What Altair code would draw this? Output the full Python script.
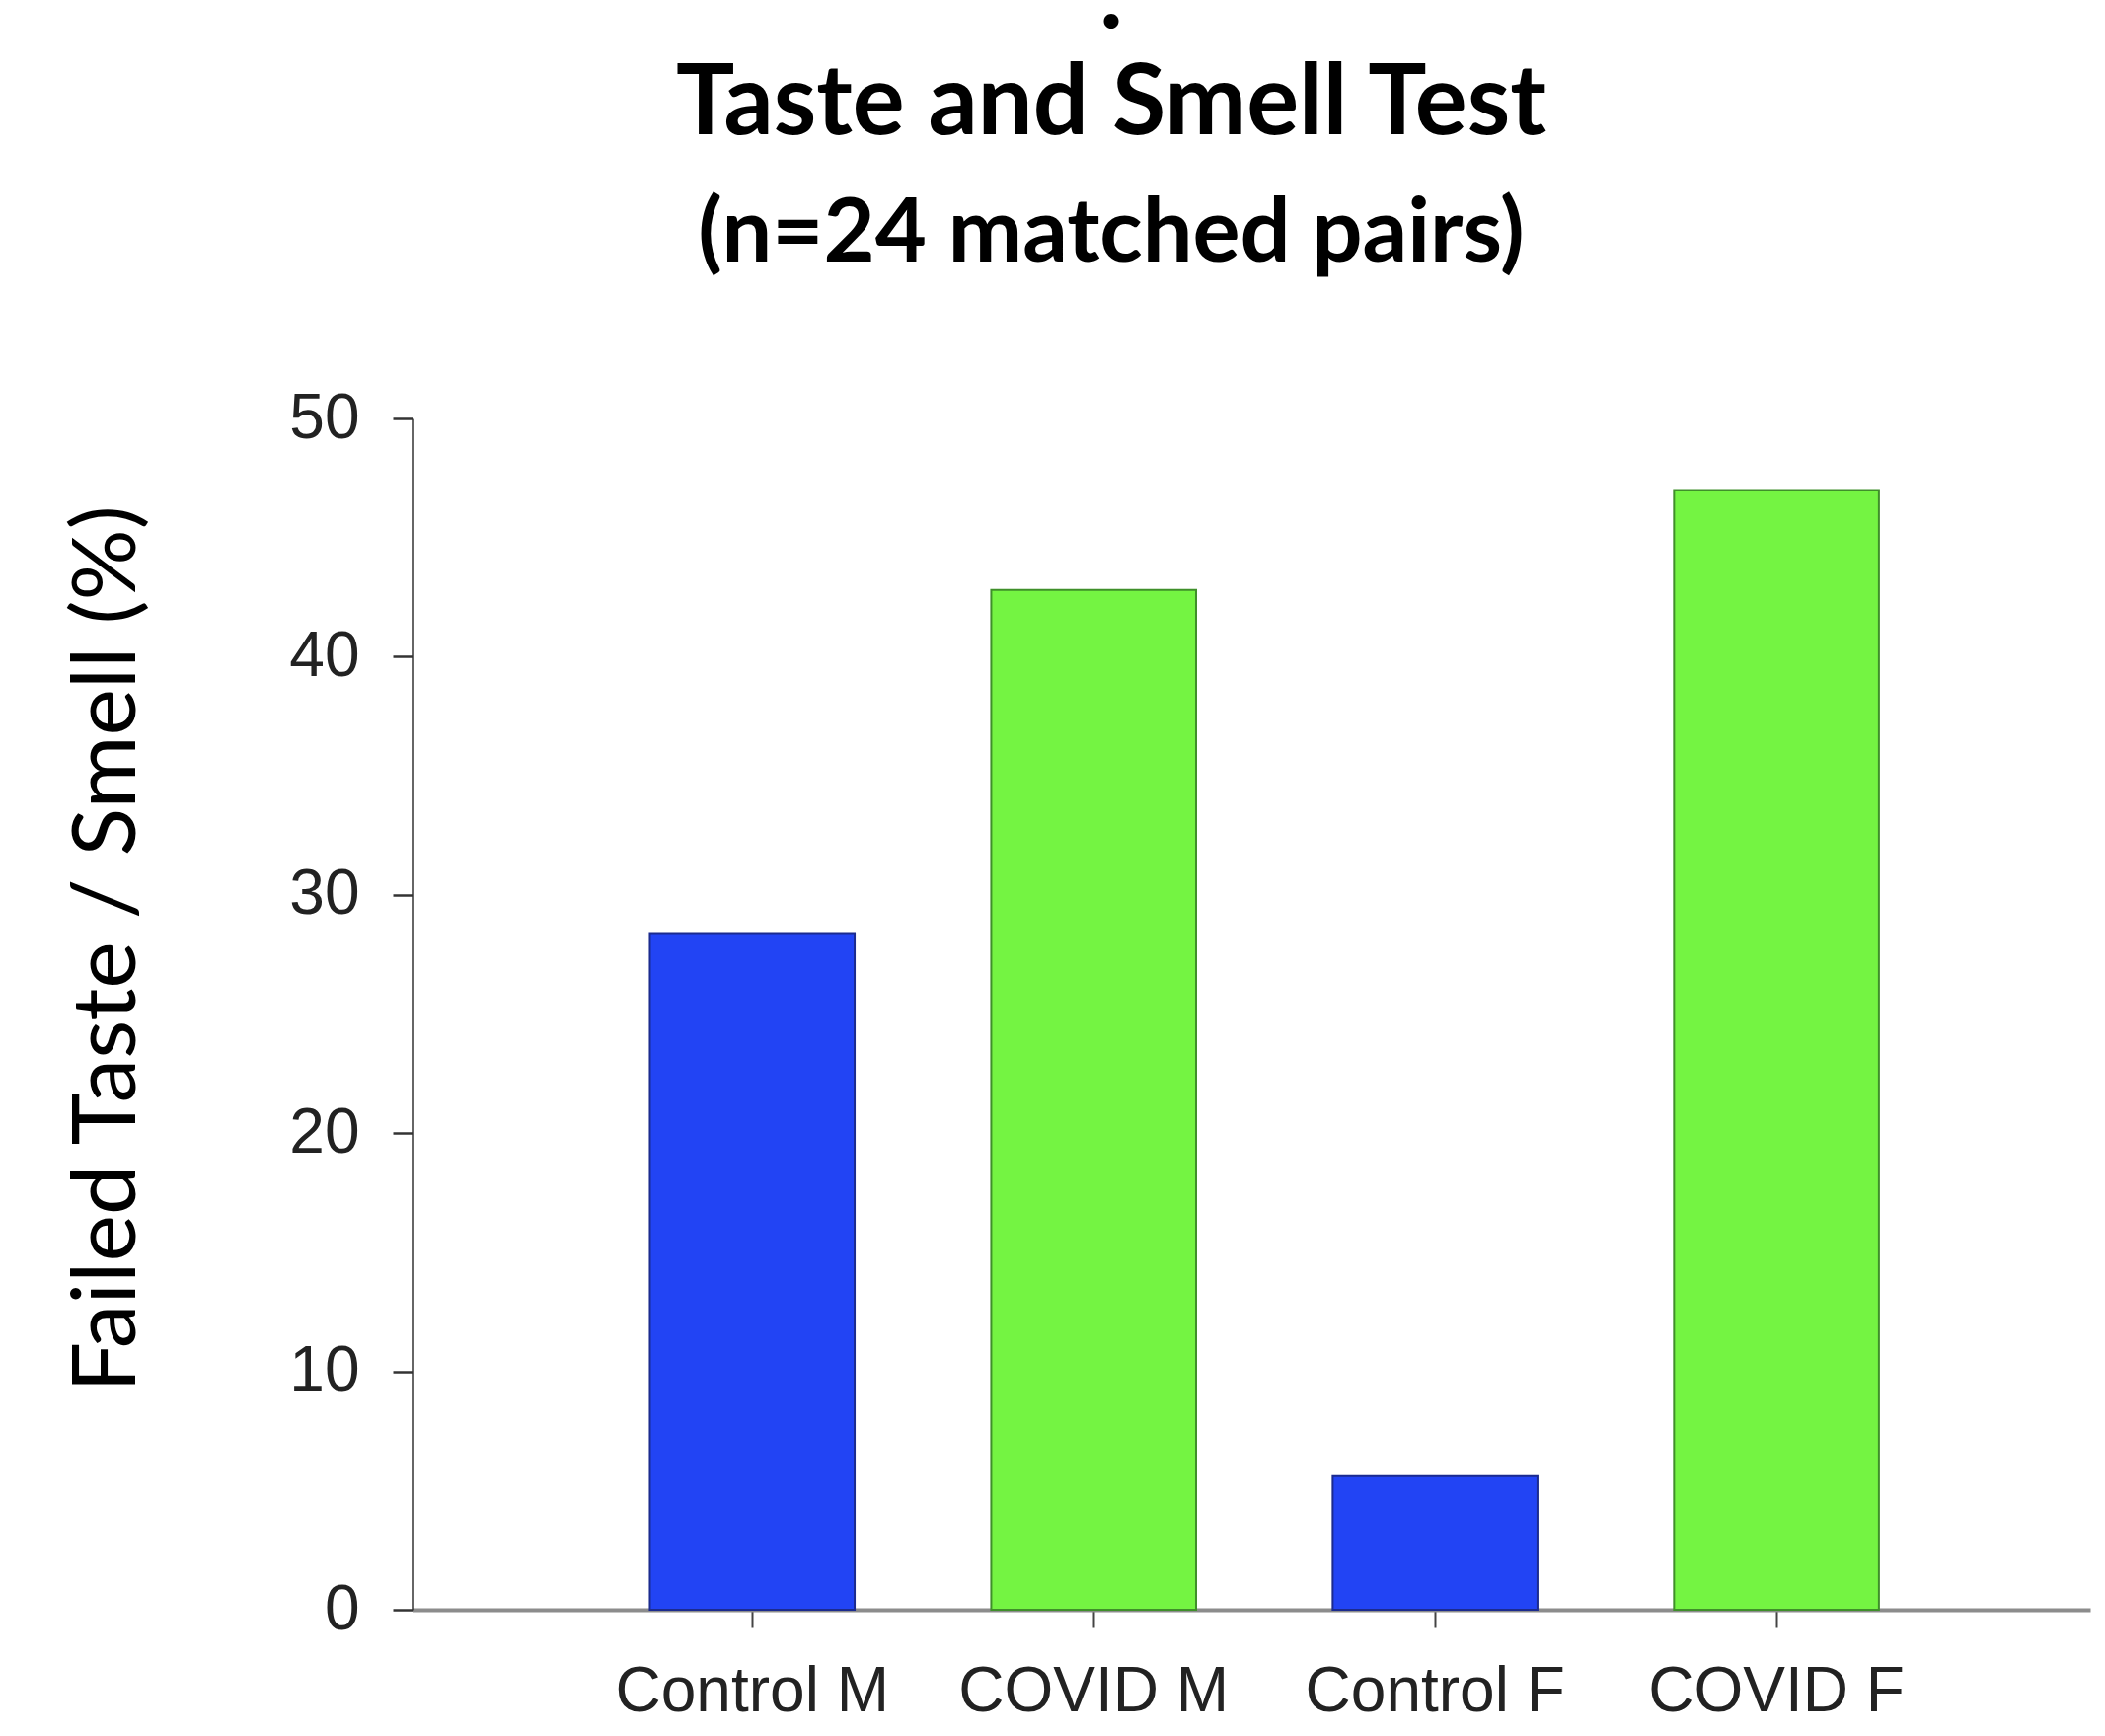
import altair as alt
import pandas as pd

categories = ["Control M", "COVID M", "Control F", "COVID F"]
values = [28.4, 42.8, 5.6, 47.0]
groups = ["Control", "COVID", "Control", "COVID"]
y_ticks = [0, 10, 20, 30, 40, 50]

df = pd.DataFrame({"cat": categories, "val": values, "grp": groups})

bars = alt.Chart(df).mark_bar(strokeWidth=2).encode(
    x=alt.X("cat:N", sort=categories,
            scale=alt.Scale(paddingInner=0.40, paddingOuter=0.657, align=0.529),
            axis=alt.Axis(title=None, labelAngle=0, labelFont="Liberation Sans",
                          labelFontSize=64, labelColor="#222222", labelPadding=33,
                          labelLimit=1000,
                          domainColor="#8c8c8c", domainWidth=4,
                          tickColor="#444444", tickWidth=2, tickSize=18)),
    y=alt.Y("val:Q", scale=alt.Scale(domain=[0, 50], nice=False),
            axis=alt.Axis(values=y_ticks, title="Failed Taste / Smell (%)",
                          titleFont="Lato", titleFontSize=90, titleFontWeight="normal",
                          titleColor="#000000", titleAngle=-90,
                          titleX=-309, titleY=537, titleAlign="center", titleBaseline="middle",
                          labelFont="Liberation Sans", labelFontSize=64,
                          labelColor="#222222", labelPadding=34,
                          domainColor="#333333", domainWidth=2.5,
                          tickColor="#333333", tickWidth=2.5, tickSize=20, grid=False)),
    color=alt.Color("grp:N", scale=alt.Scale(domain=["Control", "COVID"],
                                             range=["#2244F4", "#74F442"]), legend=None),
    stroke=alt.Stroke("grp:N", scale=alt.Scale(domain=["Control", "COVID"],
                                               range=["#1b2b8f", "#3f8f2a"]), legend=None),
)

chart = bars.properties(
    width=1700, height=1207,
    background="white",
    title=alt.TitleParams(
        text=[".", "Taste and Smell Test"],
        subtitle="(n=24 matched pairs)",
        font="Lato", fontSize=99, fontWeight="bold", color="#000000",
        subtitleFont="Lato", subtitleFontSize=90, subtitleFontWeight="bold",
        subtitleColor="#000000", lineHeight=108, subtitleLineHeight=111,
        anchor="middle", dx=-142, offset=108, subtitlePadding=37,
    ),
    autosize=alt.AutoSizeParams(type="none"),
    padding={"left": 410, "top": 416, "right": 5, "bottom": 115},
).configure_view(strokeWidth=0, stroke=None)

chart.save("out.html", embed_options={"renderer": "svg", "actions": False})
